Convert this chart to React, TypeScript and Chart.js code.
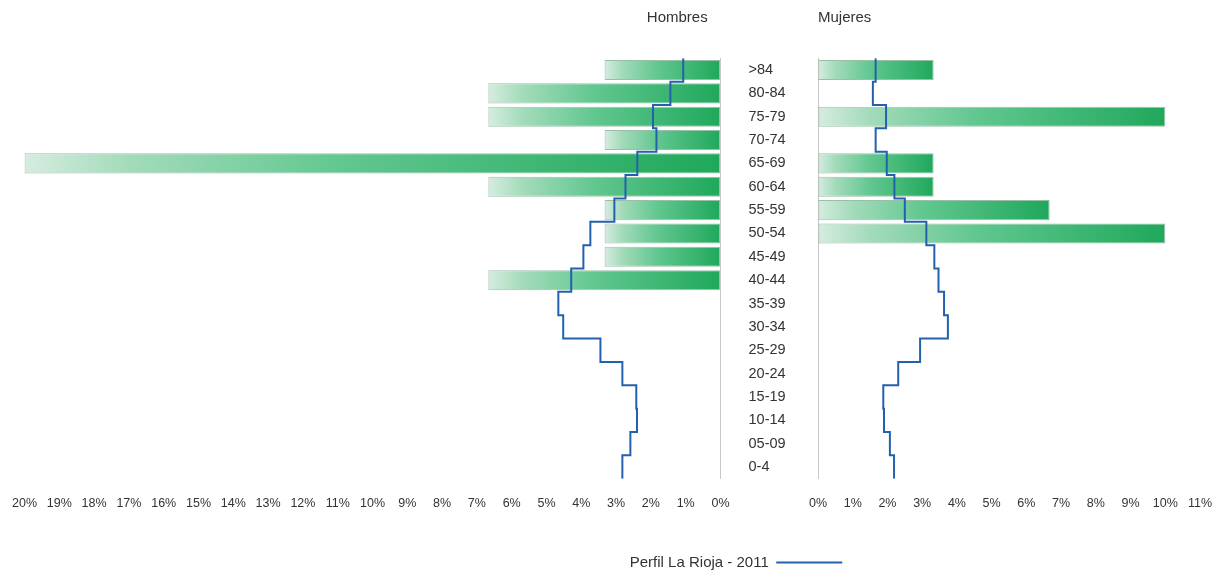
import React, { useEffect, useRef } from 'react';
import { Chart, registerables } from 'chart.js';

Chart.register(...registerables);

// ---------- data ----------
const ageGroups = ['>84', '80-84', '75-79', '70-74', '65-69', '60-64', '55-59', '50-54', '45-49', '40-44', '35-39', '30-34', '25-29', '20-24', '15-19', '10-14', '05-09', '0-4'];
const menBars = [3.33, 6.67, 6.67, 3.33, 20, 6.67, 3.33, 3.33, 3.33, 6.67, 0, 0, 0, 0, 0, 0, 0, 0];
const womenBars = [3.33, 0, 10, 0, 3.33, 3.33, 6.67, 10, 0, 0, 0, 0, 0, 0, 0, 0, 0, 0];
const menProfile = [1.07, 1.44, 1.94, 1.84, 2.39, 2.73, 3.05, 3.74, 3.94, 4.29, 4.66, 4.52, 3.45, 2.82, 2.42, 2.4, 2.59, 2.82];
const womenProfile = [1.66, 1.58, 1.96, 1.66, 1.98, 2.2, 2.5, 3.12, 3.35, 3.47, 3.63, 3.74, 2.94, 2.31, 1.88, 1.9, 2.07, 2.19];
const menAxisMax = 20;
const womenAxisMax = 11;
const menTitle = 'Hombres';
const womenTitle = 'Mujeres';
const profileLabel = 'Perfil La Rioja - 2011';

// ---------- styling ----------
const FONT = "'Liberation Sans', Arial, Helvetica, sans-serif";
const TEXT = '#333333';
const LINE_BLUE = '#2360ad';

function stepPoints(values: number[]) {
  const pts = values.map((v, i) => ({ x: v, y: i - 0.5 }));
  pts.push({ x: values[values.length - 1], y: values.length - 0.5 });
  return pts;
}

const barFill = (ctx: any) => {
  const chart = ctx.chart;
  const v = typeof ctx.raw === 'number' ? ctx.raw : 0;
  const sx = chart.scales && chart.scales.x;
  if (!sx || !v) return '#5cc68a';
  const p0 = sx.getPixelForValue(0);
  const p1 = sx.getPixelForValue(v);
  const a = Math.min(p0, p1);
  const b = Math.max(p0, p1);
  if (!isFinite(a) || !isFinite(b) || b - a < 1) return '#5cc68a';
  const g = chart.ctx.createLinearGradient(a, 0, b, 0);
  g.addColorStop(0, '#d6ece0');
  g.addColorStop(0.15, '#a3dbba');
  g.addColorStop(0.45, '#62c790');
  g.addColorStop(1, '#1fa85b');
  return g;
};

const tickFont = { size: 12.5, family: FONT };
const titleFont = { size: 15, family: FONT, weight: 'normal' as const };

export default function App() {
  const leftRef = useRef<HTMLCanvasElement>(null);
  const rightRef = useRef<HTMLCanvasElement>(null);

  useEffect(() => {
    Chart.defaults.font.family = FONT;
    Chart.defaults.color = TEXT;

    const lineDataset = (values: number[]) => ({
      type: 'line' as const,
      label: profileLabel,
      data: stepPoints(values),
      xAxisID: 'x',
      yAxisID: 'yLine',
      indexAxis: 'y' as const,
      stepped: 'after' as const,
      borderColor: LINE_BLUE,
      backgroundColor: LINE_BLUE,
      borderWidth: 2,
      pointRadius: 0,
      pointStyle: 'line' as const,
      fill: false,
      grouped: false,
      order: 0,
    });

    const barDataset = (label: string, values: number[]) => ({
      type: 'bar' as const,
      label,
      data: values,
      xAxisID: 'x',
      yAxisID: 'y',
      backgroundColor: barFill,
      borderColor: 'rgba(110,165,130,0.7)',
      borderWidth: 1,
      borderSkipped: false as const,
      barPercentage: 0.86,
      categoryPercentage: 1,
      grouped: false,
      order: 1,
    });

    const xAxis = (max: number, reverse: boolean) => ({
      type: 'linear' as const,
      min: 0,
      max,
      reverse,
      grid: {
        display: true,
        drawOnChartArea: false,
        drawTicks: true,
        tickLength: 15,
        tickColor: 'rgba(0,0,0,0)',
      },
      border: { display: false },
      ticks: {
        stepSize: 1,
        autoSkip: false,
        maxRotation: 0,
        padding: 2,
        font: tickFont,
        color: TEXT,
        callback: (v: any) => `${v}%`,
      },
      afterFit: (s: any) => {
        s.height = 66.3;
      },
    });

    const yLine = {
      type: 'linear' as const,
      axis: 'y' as const,
      display: false,
      min: -0.5,
      max: ageGroups.length - 0.5,
      reverse: true,
      offset: false,
    };

    const left = new Chart(leftRef.current as HTMLCanvasElement, {
      type: 'bar',
      data: {
        labels: ageGroups,
        datasets: [lineDataset(menProfile) as any, barDataset(menTitle, menBars) as any],
      },
      options: {
        responsive: false,
        animation: false,
        devicePixelRatio: 1,
        indexAxis: 'y',
        layout: { padding: { left: 24.5, right: 2, top: 0, bottom: 35 } },
        scales: {
          x: xAxis(menAxisMax, true) as any,
          y: {
            type: 'category',
            position: 'right',
            offset: true,
            grid: { display: false, drawTicks: false },
            border: { display: true, color: '#c8c8c8', dash: [3, 3], width: 1 },
            ticks: { padding: 28, font: { size: 14.5, family: FONT }, color: TEXT, autoSkip: false },
            afterFit: (s: any) => {
              s.width = 1329.5 - 720;
            },
          },
          yLine: yLine as any,
        },
        plugins: {
          legend: { display: false },
          tooltip: { enabled: false },
          title: {
            display: true,
            text: menTitle,
            align: 'center',
            fullSize: true,
            color: TEXT,
            font: titleFont,
            padding: { top: 9, bottom: 31.3 },
          },
        },
      },
    });

    const right = new Chart(rightRef.current as HTMLCanvasElement, {
      type: 'bar',
      data: {
        labels: ageGroups,
        datasets: [lineDataset(womenProfile) as any, barDataset(womenTitle, womenBars) as any],
      },
      options: {
        responsive: false,
        animation: false,
        devicePixelRatio: 1,
        indexAxis: 'y',
        layout: { padding: { left: 0, right: 26, top: 0, bottom: 0 } },
        scales: {
          x: xAxis(womenAxisMax, false) as any,
          y: {
            type: 'category',
            position: 'left',
            offset: true,
            grid: { display: false, drawTicks: false },
            border: { display: true, color: '#c8c8c8', dash: [3, 3], width: 1 },
            ticks: { display: false },
            afterFit: (s: any) => {
              s.width = 546;
            },
          },
          yLine: yLine as any,
        },
        plugins: {
          tooltip: { enabled: false },
          title: {
            display: true,
            text: womenTitle,
            align: 'start',
            fullSize: false,
            color: TEXT,
            font: titleFont,
            padding: { top: 9, bottom: 31.3 },
          },
          legend: {
            display: true,
            position: 'bottom',
            fullSize: true,
            rtl: true,
            labels: {
              usePointStyle: true,
              pointStyle: 'line',
              pointStyleWidth: 66,
              padding: 10,
              color: TEXT,
              font: { size: 15, family: FONT },
              textDirection: 'ltr',
              filter: (item: any) => item.text === profileLabel,
            },
          },
        },
      },
    });

    return () => {
      left.destroy();
      right.destroy();
    };
  }, []);

  return (
    <div
      style={{
        position: 'fixed',
        left: 0,
        top: 0,
        width: 1226,
        height: 577,
        overflow: 'hidden',
        background: '#ffffff',
      }}
    >
      <canvas
        ref={leftRef}
        width={1332}
        height={580}
        style={{ position: 'absolute', left: 0, top: 0, width: 1332, height: 580 }}
      />
      <canvas
        ref={rightRef}
        width={954}
        height={580}
        style={{ position: 'absolute', left: 272, top: 0, width: 954, height: 580 }}
      />
    </div>
  );
}
